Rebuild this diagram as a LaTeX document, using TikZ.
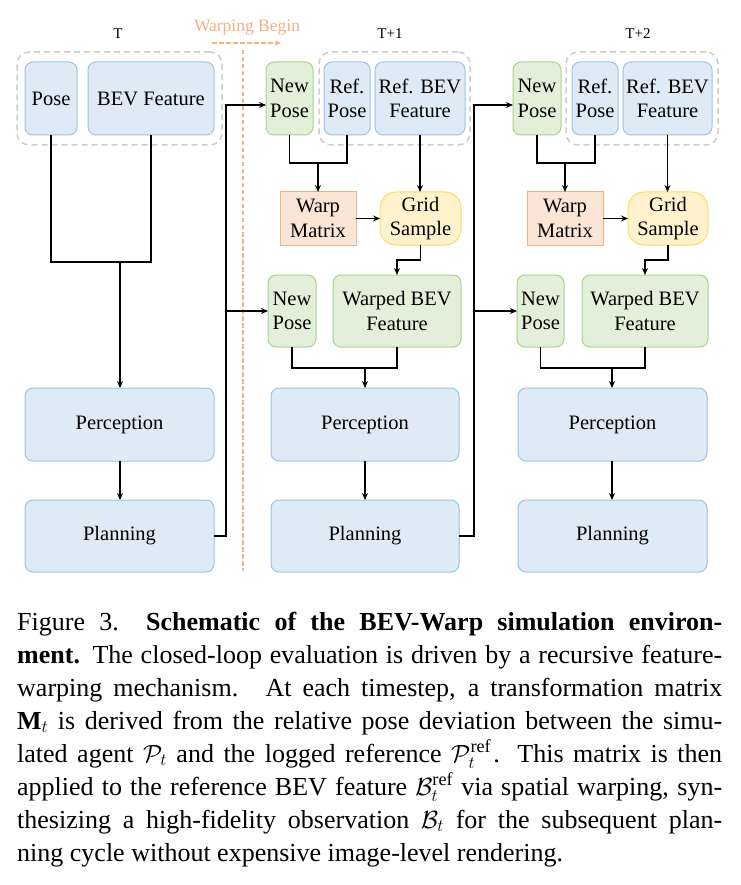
\documentclass[tikz,border=0pt]{standalone}
\usepackage{fontspec}
\setmainfont{Liberation Serif}
\usetikzlibrary{arrows.meta}
\definecolor{bfill}{HTML}{DEEBF7}
\definecolor{bdraw}{HTML}{9DC3E6}
\definecolor{gfill}{HTML}{E2F0D9}
\definecolor{gdraw}{HTML}{A9D18E}
\definecolor{ofill}{HTML}{FBE5D6}
\definecolor{odraw}{HTML}{F4B183}
\definecolor{yfill}{HTML}{FFF2CC}
\definecolor{ydraw}{HTML}{FFD966}
\definecolor{grpdraw}{HTML}{CCCCCC}
\definecolor{warpc}{HTML}{F4B183}
\tikzset{
  box/.style={draw, line width=1pt, align=center, inner sep=0pt, outer sep=0pt,
    anchor=north west, font=\fontsize{20.5}{24.5}\selectfont},
  bluebox/.style={box, rounded corners=8pt, fill=bfill, draw=bdraw},
  greenbox/.style={box, rounded corners=8pt, fill=gfill, draw=gdraw},
  orangebox/.style={box, fill=ofill, draw=odraw},
  yellowbox/.style={box, rounded corners=16pt, fill=yfill, draw=ydraw},
  grp/.style={draw=grpdraw, line width=1.5pt, dash pattern=on 6pt off 4pt,
    rounded corners=12pt, anchor=north west, inner sep=0pt, outer sep=0pt},
  conn/.style={line width=1.8pt, black},
  arr/.style={conn, -{Stealth[length=7pt,width=6pt]}},
  arrthin/.style={line width=1.1pt, black, -{Stealth[length=7pt,width=6pt]}},
  tlabel/.style={font=\fontsize{15}{18}\selectfont, inner sep=0pt},
  warpline/.style={warpc, line width=1.6pt, dash pattern=on 4.5pt off 2.5pt},
  capline/.style={anchor=base west, inner sep=0pt, font=\fontsize{26}{33}\selectfont},
}
\begin{document}
\begin{tikzpicture}[x=1pt, y=-1pt]
\useasboundingbox (0,0) rectangle (740,885);

% time labels
\node[tlabel] (lT) at (118,34) {T};
\node[tlabel] (lT1) at (390,34) {T+1};
\node[tlabel] (lT2) at (638,34) {T+2};
\node[font=\fontsize{17.5}{20}\selectfont, text=warpc, inner sep=0pt] (wbeg) at (247,28) {Warping Begin};
\coordinate (wa) at (212,43);
\coordinate (wb) at (281,43);
\draw[warpline, -{Stealth[length=6pt,width=5pt]}] (wa) -- (wb);
\coordinate (d1) at (243,50);
\coordinate (d2) at (243,571);
\draw[warpline] (d1) -- (d2);

% ---------- column T ----------
\node[grp, minimum width=205pt, minimum height=93pt] (grpT) at (17,52) {};
\node[bluebox, minimum width=52pt, minimum height=73pt] (poseT) at (25,62) {Pose};
\node[bluebox, minimum width=126pt, minimum height=73pt] (bevT) at (88,62) {BEV Feature};
\node[bluebox, minimum width=189pt, minimum height=73pt] (percT) at (25,388) {Perception};
\node[bluebox, minimum width=189pt, minimum height=72pt] (planT) at (25,500) {Planning};
\coordinate (jT) at (120,262);
\draw[conn] (poseT.south) |- (jT) -| (bevT.south);
\draw[arr] (jT) -- (jT |- percT.north);
\draw[arr] (jT |- percT.south) -- (jT |- planT.north);

% ---------- column T+1 ----------
\node[greenbox, minimum width=47pt, minimum height=73pt] (np1) at (266,62) {New\\Pose};
\node[grp, minimum width=151pt, minimum height=93pt] (grp1) at (319,52) {};
\node[bluebox, minimum width=46pt, minimum height=73pt] (rp1) at (324,62) {Ref.\\Pose};
\node[bluebox, minimum width=90pt, minimum height=73pt] (rb1) at (375,62) {Ref. BEV\\Feature};
\node[orangebox, minimum width=76pt, minimum height=53pt] (wm1) at (280,192) {Warp\\Matrix};
\node[yellowbox, minimum width=81pt, minimum height=53pt] (gs1) at (380,192) {Grid\\Sample};
\node[greenbox, minimum width=48pt, minimum height=72pt] (npb1) at (268,275) {New\\Pose};
\node[greenbox, minimum width=128pt, minimum height=72pt] (wb1) at (333,275) {Warped BEV\\Feature};
\node[bluebox, minimum width=188pt, minimum height=73pt] (perc1) at (271,388) {Perception};
\node[bluebox, minimum width=188pt, minimum height=72pt] (plan1) at (271,500) {Planning};

% link T -> T+1
\coordinate (v1) at (226,536);
\draw[arr] (planT.east) -- (v1) |- ([yshift=-6.5pt]np1.west);
\draw[arr] (v1 |- npb1.west) -- (npb1.west);

\coordinate (j1a) at (318,163);
\draw[conn] (np1.south) |- (j1a) -| (rp1.south);
\draw[arr] (j1a) -- (wm1.north);
\draw[arrthin] (wm1.east) -- (gs1.west);
\draw[arr] (rb1.south) -- (rb1.south |- gs1.north);
\draw[arr] (gs1.south) -- ++(0,15) -| (wb1.north);
\coordinate (j1b) at (365,368);
\draw[conn] (npb1.south) |- (j1b) -| (wb1.south);
\draw[arr] (j1b) -- (perc1.north);
\draw[arr] (perc1.south) -- (plan1.north);

% ---------- column T+2 ----------
\node[greenbox, minimum width=48pt, minimum height=73pt] (np2) at (513,62) {New\\Pose};
\node[grp, minimum width=152pt, minimum height=93pt] (grp2) at (566,52) {};
\node[bluebox, minimum width=46pt, minimum height=73pt] (rp2) at (572,62) {Ref.\\Pose};
\node[bluebox, minimum width=89pt, minimum height=73pt] (rb2) at (623,62) {Ref. BEV\\Feature};
\node[orangebox, minimum width=76pt, minimum height=53pt] (wm2) at (527,192) {Warp\\Matrix};
\node[yellowbox, minimum width=80pt, minimum height=53pt] (gs2) at (628,192) {Grid\\Sample};
\node[greenbox, minimum width=47pt, minimum height=72pt] (npb2) at (517,275) {New\\Pose};
\node[greenbox, minimum width=126pt, minimum height=72pt] (wb2) at (582,275) {Warped BEV\\Feature};
\node[bluebox, minimum width=189pt, minimum height=73pt] (perc2) at (518,388) {Perception};
\node[bluebox, minimum width=189pt, minimum height=72pt] (plan2) at (518,500) {Planning};

% link T+1 -> T+2
\coordinate (v2) at (474,536);
\draw[arr] (plan1.east) -- (v2) |- ([yshift=-6.5pt]np2.west);
\draw[arr] (v2 |- npb2.west) -- (npb2.west);

\coordinate (j2a) at (565,163);
\draw[conn] (np2.south) |- (j2a) -| (rp2.south);
\draw[arr] (j2a) -- (wm2.north);
\draw[arrthin] (wm2.east) -- (gs2.west);
\draw[arr] (rb2.south) -- (rb2.south |- gs2.north);
\draw[arr] (gs2.south) -- ++(0,15) -| (wb2.north);
\coordinate (j2b) at (612,368);
\draw[conn] (npb2.south) |- (j2b) -| (wb2.south);
\draw[arr] (j2b) -- (j2b |- perc2.north);
\draw[arr] (j2b |- perc2.south) -- (j2b |- plan2.north);

% ---------- caption ----------
\node[capline] (c1) at (17,630) {\hbox to 705pt{Figure 3.\hspace{1.05em}\textbf{Schematic of the BEV-Warp simulation environ-}}};
\node[capline] (c2) at (17,663) {\hbox to 705pt{\textbf{ment.} The closed-loop evaluation is driven by a recursive feature-}};
\node[capline] (c3) at (17,696) {\hbox to 705pt{warping mechanism.\hspace{0.2em} At each timestep, a transformation matrix}};
\node[capline] (c4) at (17,729) {\hbox to 705pt{$\mathbf{M}_t$ is derived from the relative pose deviation between the simu-}};
\node[capline] (c5) at (17,762) {\hbox to 705pt{lated agent $\mathcal{P}_t$ and the logged reference $\mathcal{P}_t^{\mathrm{ref}}$\kern2pt. This matrix is then}};
\node[capline] (c6) at (17,795) {\hbox to 705pt{applied to the reference BEV feature $\mathcal{B}_t^{\mathrm{ref}}$ via spatial warping, syn-}};
\node[capline] (c7) at (17,828) {\hbox to 705pt{thesizing a high-fidelity observation $\mathcal{B}_t$ for the subsequent plan-}};
\node[capline] (c8) at (17,861) {ning cycle without expensive image-level rendering.};
\end{tikzpicture}
\end{document}
